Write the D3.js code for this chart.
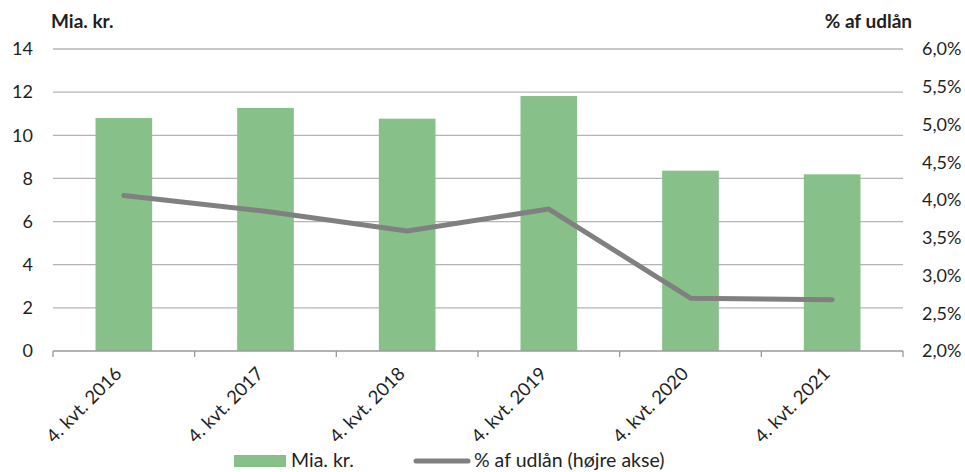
<!DOCTYPE html>
<html>
<head>
<meta charset="utf-8">
<script src="https://cdn.jsdelivr.net/npm/d3@7"></script>
<style>
  body { margin: 0; background: #fff; }
  text { font-family: Lato, "Open Sans", sans-serif; fill: #1f1f1f; }
</style>
</head>
<body>
<svg id="chart" width="965" height="472"></svg>
<script>
// Quarterly figures
const categories = ["4. kvt. 2016", "4. kvt. 2017", "4. kvt. 2018", "4. kvt. 2019", "4. kvt. 2020", "4. kvt. 2021"];
const amountBn = [10.8, 11.27, 10.77, 11.82, 8.36, 8.19];      // Mia. kr. (left axis)
const pctOfLoans = [4.06, 3.85, 3.59, 3.88, 2.70, 2.68];        // % af udlån (right axis)
const leftTicks = [0, 2, 4, 6, 8, 10, 12, 14];
const rightTicks = [2.0, 2.5, 3.0, 3.5, 4.0, 4.5, 5.0, 5.5, 6.0];

const svg = d3.select("#chart");
const m = { left: 53, right: 903, top: 49, bottom: 351 };

const x = d3.scaleBand().domain(categories).range([m.left, m.right]).paddingInner(0.6).paddingOuter(0.3);
const xOuter = d3.scaleBand().domain(categories).range([m.left, m.right]);
const yL = d3.scaleLinear().domain([0, 14]).range([m.bottom, m.top]);
const yR = d3.scaleLinear().domain([2, 6]).range([m.bottom, m.top]);

const green = "#88c08a";
const lineGrey = "#808080";
const gridGrey = "#b4b4b4";

// Gridlines
svg.append("g").selectAll("line").data(leftTicks.filter(d => d > 0)).join("line")
  .attr("x1", m.left).attr("x2", m.right)
  .attr("y1", d => yL(d)).attr("y2", d => yL(d))
  .attr("stroke", gridGrey).attr("stroke-width", 1.3);

// Bars
svg.append("g").selectAll("rect").data(categories).join("rect")
  .attr("x", d => x(d)).attr("width", x.bandwidth())
  .attr("y", (d, i) => yL(amountBn[i]))
  .attr("height", (d, i) => yL(0) - yL(amountBn[i]))
  .attr("fill", green);

// Category axis with boundary ticks
const base = svg.append("g");
base.append("line").attr("x1", m.left).attr("x2", m.right)
  .attr("y1", m.bottom).attr("y2", m.bottom)
  .attr("stroke", "#9a9a9a").attr("stroke-width", 1.3);
const bounds = categories.map(c => xOuter(c)).concat([m.right]);
base.selectAll("line.tick").data(bounds).join("line").attr("class", "tick")
  .attr("x1", d => d).attr("x2", d => d)
  .attr("y1", m.bottom).attr("y2", m.bottom + 6)
  .attr("stroke", "#9a9a9a").attr("stroke-width", 1.3);

// Rotated category labels
svg.append("g").selectAll("text").data(categories).join("text")
  .attr("transform", d => {
    const cx = xOuter(d) + xOuter.bandwidth() / 2 - 1;
    return `translate(${cx},${m.bottom + 24}) rotate(-45)`;
  })
  .attr("text-anchor", "end")
  .style("font-size", "18.5px")
  .text(d => d);

// Left axis labels
svg.append("g").selectAll("text").data(leftTicks).join("text")
  .attr("x", 33).attr("y", d => yL(d)).attr("dy", "0.35em")
  .attr("text-anchor", "end").style("font-size", "18px")
  .text(d => d);

// Right axis labels
const fmtPct = d => d.toFixed(1).replace(".", ",") + "%";
svg.append("g").selectAll("text").data(rightTicks).join("text")
  .attr("x", 922).attr("y", d => yR(d)).attr("dy", "0.35em")
  .attr("text-anchor", "start").style("font-size", "18px")
  .text(fmtPct);

// Line series
const line = d3.line()
  .x((d, i) => xOuter(categories[i]) + xOuter.bandwidth() / 2)
  .y(d => yR(d));
svg.append("path").datum(pctOfLoans)
  .attr("d", line).attr("fill", "none")
  .attr("stroke", lineGrey).attr("stroke-width", 5)
  .attr("stroke-linecap", "round").attr("stroke-linejoin", "round");

// Axis titles
svg.append("text").attr("x", 51).attr("y", 28)
  .style("font-size", "19px").style("font-weight", 700).text("Mia. kr.");
svg.append("text").attr("x", 912).attr("y", 28).attr("text-anchor", "end")
  .style("font-size", "19px").style("font-weight", 700).text("% af udlån");

// Legend
const lg = svg.append("g");
lg.append("rect").attr("x", 234).attr("y", 455).attr("width", 52).attr("height", 12).attr("fill", green);
lg.append("text").attr("x", 291).attr("y", 467).style("font-size", "19.5px").text("Mia. kr.");
lg.append("line").attr("x1", 416).attr("x2", 468).attr("y1", 461).attr("y2", 461)
  .attr("stroke", lineGrey).attr("stroke-width", 5).attr("stroke-linecap", "round");
lg.append("text").attr("x", 474).attr("y", 467).style("font-size", "19.5px").text("% af udlån (højre akse)");
</script>
</body>
</html>
